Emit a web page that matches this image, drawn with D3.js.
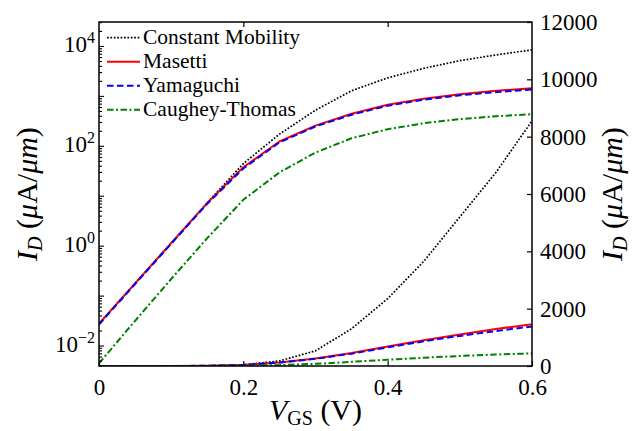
<!DOCTYPE html>
<html>
<head>
<meta charset="utf-8">
<script src="https://cdn.jsdelivr.net/npm/d3@7/dist/d3.min.js"></script>
<style>
  html, body { margin: 0; padding: 0; background: #fff; }
  svg { display: block; }
</style>
</head>
<body>
<svg id="chart" width="633" height="431"></svg>
<script>
// Gate voltage sweep (V)
const vgs = [0, 0.05, 0.1, 0.15, 0.2, 0.25, 0.3, 0.35, 0.4, 0.45, 0.5, 0.55, 0.6];

// Drain current per mobility model (uA/um)
const constantMobility = [0.028, 0.18, 1.15, 7.4, 45, 175, 530, 1300, 2350, 3650, 5200, 6750, 8550];
const masetti          = [0.028, 0.18, 1.15, 7.3, 38, 125, 260, 450, 680, 900, 1100, 1290, 1460];
const yamaguchi        = [0.027, 0.175, 1.12, 7.1, 36, 120, 250, 430, 650, 860, 1050, 1220, 1380];
const caugheyThomas    = [0.0045, 0.032, 0.22, 1.45, 8.5, 30, 75, 145, 220, 290, 350, 400, 440];

const seriesNames = ["Constant Mobility", "Masetti", "Yamaguchi", "Caughey-Thomas"];

// Axis tick values
const xTicks = [0, 0.2, 0.4, 0.6];
const xTickLabels = ["0", "0.2", "0.4", "0.6"];
const logTickExponents = [-2, 0, 2, 4];
const linTicks = [0, 2000, 4000, 6000, 8000, 10000, 12000];

const series = [
  { name: seriesNames[0], values: constantMobility, color: "#000000", width: 1.7, dash: "1.7,1.7" },
  { name: seriesNames[1], values: masetti,          color: "#ff0000", width: 2,   dash: null },
  { name: seriesNames[2], values: yamaguchi,        color: "#0000ff", width: 2,   dash: "6.5,3.5" },
  { name: seriesNames[3], values: caugheyThomas,    color: "#008000", width: 2,   dash: "6.5,2.5,2,2.5" }
];

const FONT = '"Liberation Serif", "Times New Roman", serif';

const svg = d3.select("#chart");
const m = { left: 99, right: 532, top: 22, bottom: 366 };

const x = d3.scaleLinear().domain([0, 0.6]).range([m.left, m.right]);
const yLog = d3.scaleLog().domain([Math.pow(10, -2.4), Math.pow(10, 4.49)]).range([m.bottom, m.top]);
const yLin = d3.scaleLinear().domain([0, 12000]).range([m.bottom, m.top]);

svg.append("defs").append("clipPath").attr("id", "plot-clip")
  .append("rect")
  .attr("x", m.left).attr("y", m.top)
  .attr("width", m.right - m.left).attr("height", m.bottom - m.top);

const plot = svg.append("g").attr("clip-path", "url(#plot-clip)");

const lineLog = d3.line().x((d, i) => x(vgs[i])).y(d => yLog(d));
const lineLin = d3.line().x((d, i) => x(vgs[i])).y(d => yLin(d));

// Linear-scale set first, log-scale set on top
[lineLin, lineLog].forEach(gen => {
  series.forEach(s => {
    plot.append("path")
      .attr("d", gen(s.values))
      .attr("fill", "none")
      .attr("stroke", s.color)
      .attr("stroke-width", s.width)
      .attr("stroke-dasharray", s.dash)
      .attr("stroke-linejoin", "round");
  });
});

// Frame
svg.append("rect")
  .attr("x", m.left).attr("y", m.top)
  .attr("width", m.right - m.left).attr("height", m.bottom - m.top)
  .attr("fill", "none").attr("stroke", "#000").attr("stroke-width", 1.5);

const tickFont = 23;

// Bottom axis (ticks point inward)
const xAxis = d3.axisBottom(x).tickValues(xTicks).tickSizeInner(-5).tickSizeOuter(0)
  .tickFormat((d, i) => xTickLabels[i]).tickPadding(13);
const gx = svg.append("g").attr("transform", `translate(0,${m.bottom})`).call(xAxis);
gx.select(".domain").remove();
gx.selectAll("text").attr("font-size", tickFont);
gx.selectAll("line").attr("stroke-width", 1.2);

// Top axis ticks only
const xTop = d3.axisTop(x).tickValues([0.2, 0.4]).tickSizeInner(-5).tickSizeOuter(0).tickFormat("");
const gxt = svg.append("g").attr("transform", `translate(0,${m.top})`).call(xTop);
gxt.select(".domain").remove();
gxt.selectAll("line").attr("stroke-width", 1.2);

// Left log axis: major ticks each decade, minor ticks 2..9
const logTicksAll = [];
for (let e = -3; e <= 4; e++) {
  for (let k = 1; k <= 9; k++) {
    const v = k * Math.pow(10, e);
    if (v >= yLog.domain()[0] && v <= yLog.domain()[1]) logTicksAll.push({ v, major: k === 1 });
  }
}
const gl = svg.append("g");
gl.selectAll("line").data(logTicksAll).join("line")
  .attr("x1", m.left).attr("x2", d => m.left + (d.major ? 5 : 3))
  .attr("y1", d => yLog(d.v)).attr("y2", d => yLog(d.v))
  .attr("stroke", "#000").attr("stroke-width", 1.1);
const lblL = gl.selectAll("text").data(logTickExponents).join("text")
  .attr("x", m.left - 4).attr("y", d => yLog(Math.pow(10, d)) + 6)
  .attr("text-anchor", "end").attr("font-size", tickFont);
lblL.append("tspan").text("10");
lblL.append("tspan").attr("dy", -9).attr("font-size", 16).text(d => d < 0 ? "\u2212" + (-d) : d);

// Right linear axis (ticks point inward)
const yAxisR = d3.axisRight(yLin).tickValues(linTicks).tickSizeInner(-5).tickSizeOuter(0)
  .tickFormat(d3.format("d")).tickPadding(8);
const gr = svg.append("g").attr("transform", `translate(${m.right},0)`).call(yAxisR);
gr.select(".domain").remove();
gr.selectAll("text").attr("font-size", tickFont);
gr.selectAll("line").attr("stroke-width", 1.2);

// Axis titles
function idLabel(g) {
  const t = g.append("text").attr("text-anchor", "middle").attr("font-size", 30);
  t.append("tspan").attr("font-style", "italic").text("I");
  t.append("tspan").attr("font-style", "italic").attr("font-size", 20).attr("dy", 5).text("D");
  t.append("tspan").attr("dy", -5).text(" (");
  t.append("tspan").attr("font-style", "italic").text("\u03bc");
  t.append("tspan").text("A/");
  t.append("tspan").attr("font-style", "italic").text("\u03bcm");
  t.append("tspan").text(")");
}
idLabel(svg.append("g").attr("transform", `translate(37,${(m.top + m.bottom) / 2}) rotate(-90)`));
idLabel(svg.append("g").attr("transform", `translate(622,${(m.top + m.bottom) / 2}) rotate(-90)`));

const xl = svg.append("text").attr("x", (m.left + m.right) / 2).attr("y", 420)
  .attr("text-anchor", "middle").attr("font-size", 30);
xl.append("tspan").attr("font-style", "italic").text("V");
xl.append("tspan").attr("font-size", 20).attr("dy", 5).text("GS");
xl.append("tspan").attr("dy", -5).text(" (V)");

// Legend
const legend = svg.append("g");
series.forEach((s, i) => {
  const yy = 37.7 + i * 24;
  legend.append("line")
    .attr("x1", 107).attr("x2", 140).attr("y1", yy).attr("y2", yy)
    .attr("stroke", s.color).attr("stroke-width", s.width)
    .attr("stroke-dasharray", s.dash);
  legend.append("text").attr("x", 143).attr("y", yy + 6)
    .attr("font-size", 21.5).text(s.name);
});

// Serif face on every text element
svg.selectAll("text").style("font-family", FONT).style("fill", "#000");
</script>
</body>
</html>
